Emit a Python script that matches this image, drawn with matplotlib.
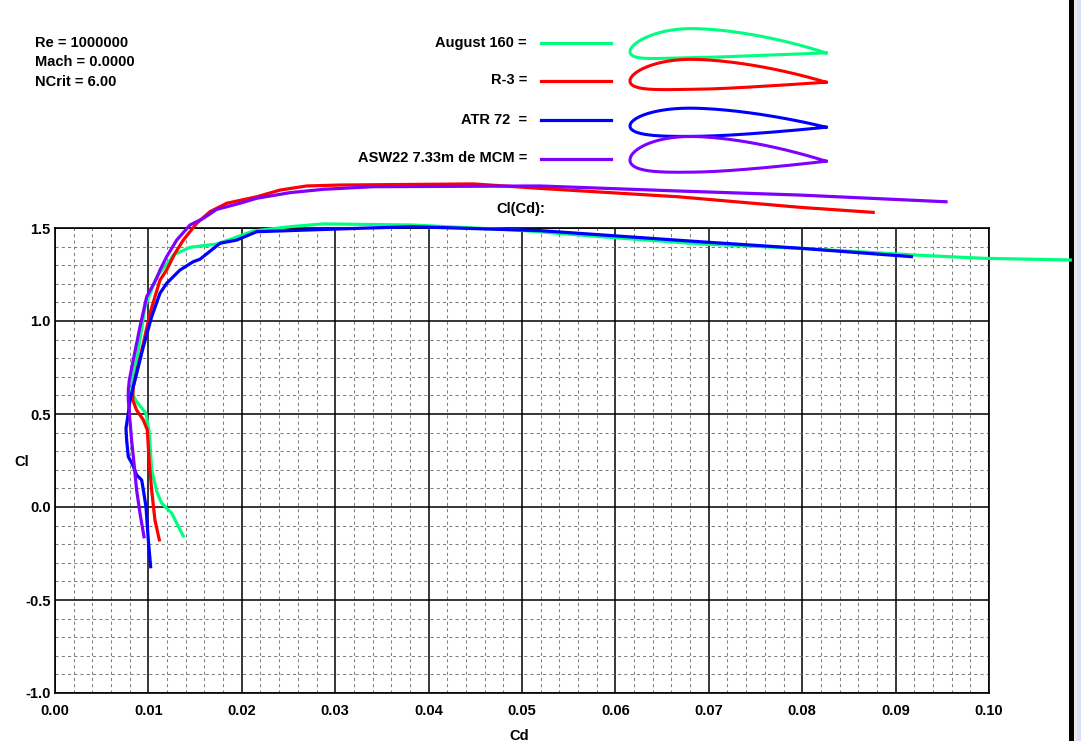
import matplotlib
matplotlib.use("Agg")
import matplotlib.pyplot as plt
from matplotlib.patches import Rectangle
import numpy as np

plt.rcParams['font.family'] = ['Liberation Sans', 'DejaVu Sans']
plt.rcParams['font.weight'] = 'bold'
plt.rcParams['axes.unicode_minus'] = False

# polars (Cd, Cl)
august_cd = [0.01373, 0.0125, 0.01142, 0.0109, 0.01035, 0.0101, 0.00974, 0.00874, 0.0082,
             0.0083, 0.0086, 0.00892, 0.00964, 0.01089, 0.01231, 0.01267, 0.01445, 0.01731,
             0.0191, 0.02123, 0.02516, 0.02873, 0.0383, 0.0494, 0.0593, 0.0691,
             0.0798, 0.0919, 0.0994, 0.1087]
august_cl = [-0.156, -0.034, 0.02, 0.082, 0.199, 0.396, 0.504, 0.566, 0.615,
             0.68, 0.76, 0.844, 1.077, 1.238, 1.328, 1.355, 1.396, 1.414,
             1.445, 1.484, 1.507, 1.522, 1.516, 1.489, 1.45, 1.414,
             1.391, 1.355, 1.337, 1.328]

r3_cd = [0.01117, 0.0107, 0.01035, 0.0101, 0.00988, 0.00946, 0.00874, 0.00832, 0.00838,
         0.0089, 0.00946, 0.01017, 0.01124, 0.01195, 0.0128, 0.01374, 0.01445, 0.01517,
         0.0166, 0.01838, 0.0216, 0.0241, 0.02695, 0.0305, 0.0448, 0.0519, 0.0667,
         0.0798, 0.0876]
r3_cl = [-0.177, -0.07, 0.091, 0.235, 0.414, 0.468, 0.521, 0.575, 0.647,
         0.76, 0.88, 1.041, 1.22, 1.274, 1.36, 1.435, 1.48, 1.525,
         1.588, 1.633, 1.668, 1.704, 1.726, 1.731, 1.737, 1.713, 1.668,
         1.611, 1.584]

atr_cd = [0.01024, 0.00999, 0.00974, 0.00946, 0.00928, 0.00874, 0.00832, 0.00785, 0.00767,
          0.0076, 0.00785, 0.00803, 0.00838, 0.0089, 0.00946, 0.01035, 0.01124, 0.01196,
          0.01338, 0.01481, 0.01552, 0.01767, 0.01945, 0.0216, 0.02695, 0.0323, 0.0383,
          0.0519, 0.0691, 0.0798, 0.0917]
atr_cl = [-0.321, -0.177, 0.002, 0.091, 0.145, 0.172, 0.226, 0.27, 0.36,
          0.423, 0.504, 0.575, 0.647, 0.75, 0.862, 1.023, 1.149, 1.203,
          1.274, 1.319, 1.332, 1.418, 1.435, 1.48, 1.489, 1.498, 1.507,
          1.486, 1.426, 1.391, 1.346]

asw_cd = [0.00953, 0.0091, 0.00874, 0.00846, 0.0082, 0.00796, 0.00785, 0.00785, 0.00796,
          0.00838, 0.0091, 0.00982, 0.01089, 0.01124, 0.01196, 0.01303, 0.01445, 0.01588,
          0.01731, 0.0198, 0.0216, 0.02516, 0.02873, 0.03408, 0.0519, 0.0667, 0.0798,
          0.0954]
asw_cl = [-0.16, -0.034, 0.091, 0.235, 0.36, 0.504, 0.575, 0.629, 0.683,
          0.79, 0.969, 1.131, 1.23, 1.274, 1.346, 1.435, 1.516, 1.552,
          1.60, 1.633, 1.66, 1.69, 1.708, 1.722, 1.726, 1.699, 1.677,
          1.641]

names = ["August 160 =", "R-3 =", "ATR 72  =", "ASW22 7.33m de MCM ="]
colors = ["#00FF80", "#FF0000", "#0000FF", "#8000FF"]
# airfoil glyph: (max thickness, max camber, camber position) as chord fraction
foils = [(0.148, 0.046, 0.33), (0.153, 0.036, 0.33), (0.144, 0.021, 0.33), (0.182, 0.031, 0.33)]

x_ticks = [0.00, 0.01, 0.02, 0.03, 0.04, 0.05, 0.06, 0.07, 0.08, 0.09, 0.10]
y_ticks = [-1.0, -0.5, 0.0, 0.5, 1.0, 1.5]

W, H = 1081, 741
fig = plt.figure(figsize=(W / 100, H / 100), dpi=100)

# overlay in pixel coordinates for the header texts and glyphs
ov = fig.add_axes([0, 0, 1, 1])
ov.set_xlim(0, W)
ov.set_ylim(H, 0)
ov.axis("off")

ax = fig.add_axes([55 / W, 1 - 693 / H, 934 / W, 465 / H])
ax.set_xlim(0, 0.10)
ax.set_ylim(-1.0, 1.5)
ax.set_xticks(x_ticks)
ax.set_yticks(y_ticks)
ax.set_xticklabels(["%.2f" % v for v in x_ticks], fontsize=10.5, fontweight='bold')
ax.set_yticklabels(["%.1f" % v for v in y_ticks], fontsize=10.5, fontweight='bold')
ax.set_xticks(np.arange(0, 0.1001, 0.002), minor=True)
ax.set_yticks(np.arange(-1.0, 1.501, 0.1), minor=True)
ax.tick_params(which='both', length=0)
ax.tick_params(axis='x', pad=8)
ax.tick_params(axis='y', pad=3)
ax.grid(which='minor', color='#808080', lw=0.75, ls=(0, (3, 3)))
ax.grid(which='major', color='black', lw=1.1, ls='-')
ax.set_axisbelow(True)
for s in ax.spines.values():
    s.set_linewidth(1.2)
ax.patch.set_alpha(0)

series = [(august_cd, august_cl), (r3_cd, r3_cl), (atr_cd, atr_cl), (asw_cd, asw_cl)]
for (cd, cl), c in zip(series, colors):
    ax.plot(cd, cl, color=c, lw=2.3, clip_on=False, zorder=5)

# header texts
for i, t in enumerate(["Re = 1000000", "Mach = 0.0000", "NCrit = 6.00"]):
    ov.text(35, 43 + i * 19.5, t, fontsize=10.5, fontweight='bold', va='center', ha='left')
ov.text(521, 209, "Cl(Cd):", fontsize=10.5, fontweight='bold', va='center', ha='center')
ov.text(22, 462, "Cl", fontsize=10.5, fontweight='bold', va='center', ha='center')
ov.text(519, 729, "Cd", fontsize=10.5, fontweight='bold', va='top', ha='center')

# legend lines and airfoil glyphs
leg_y = [42.5, 80.5, 119.5, 158.5]
le_y = [51.7, 81.0, 126.0, 160.0]
le_x, chord = 630, 196
xc = (1 - np.cos(np.linspace(0, np.pi, 80))) / 2
for name, c, y0, y1, (t, m, p) in zip(names, colors, leg_y, le_y, foils):
    ov.text(527, y0, name, fontsize=10.5, fontweight='bold', va='center', ha='right')
    ov.plot([541, 611], [y0, y0], color=c, lw=2.3)
    yt = 5 * t * (0.2969 * np.sqrt(xc) - 0.126 * xc - 0.3516 * xc ** 2
                  + 0.2843 * xc ** 3 - 0.1036 * xc ** 4)
    yc = np.where(xc < p, m / p ** 2 * (2 * p * xc - xc ** 2),
                  m / (1 - p) ** 2 * ((1 - 2 * p) + 2 * p * xc - xc ** 2))
    xs = np.concatenate([xc[::-1], xc[1:]])
    ys = np.concatenate([(yc + yt)[::-1], (yc - yt)[1:]])
    ov.plot(le_x + chord * xs, y1 + 1.2 * xs - chord * ys, color=c, lw=2.2)

# window edge of the screenshot
ov.add_patch(Rectangle((1069, 0), 5, H, color='black', lw=0))
ov.add_patch(Rectangle((1074, 0), 3, H, color='#e8e8e8', lw=0))
ov.add_patch(Rectangle((1077, 0), 4, H, color='#d4e2f4', lw=0))

fig.savefig("out.png", dpi=100)
